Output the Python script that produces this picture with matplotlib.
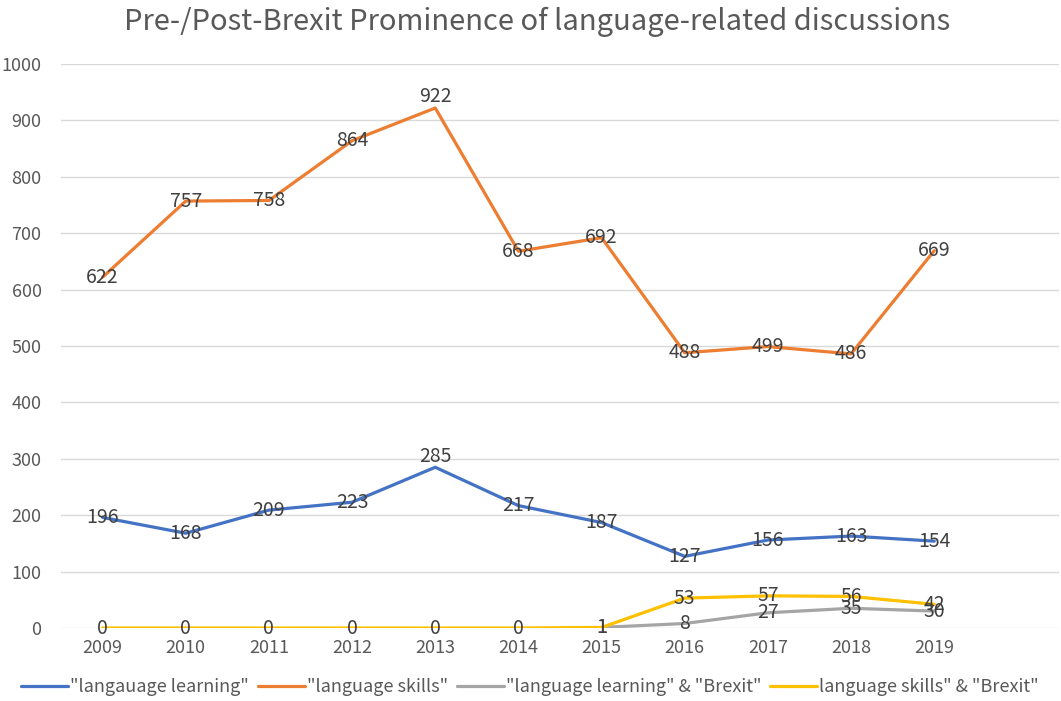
import numpy as np
import matplotlib
matplotlib.use("Agg")
import matplotlib.pyplot as plt

plt.rcParams['font.family'] = ['Noto Sans CJK SC', 'DejaVu Sans']

years = ["2009", "2010", "2011", "2012", "2013", "2014", "2015", "2016", "2017", "2018", "2019"]
lang_learning = [196, 168, 209, 223, 285, 217, 187, 127, 156, 163, 154]
lang_skills = [622, 757, 758, 864, 922, 668, 692, 488, 499, 486, 669]
learning_brexit = [None, None, None, None, None, None, 1, 8, 27, 35, 30]
skills_brexit = [0, 0, 0, 0, 0, 0, 1, 53, 57, 56, 42]

series = [
    ('"langauage learning"', lang_learning, "#4472C4"),
    ('"language skills"', lang_skills, "#ED7D31"),
    ('"language learning" & "Brexit"', learning_brexit, "#A5A5A5"),
    ('language skills" & "Brexit"', skills_brexit, "#FFC000"),
]

fig = plt.figure(figsize=(10.61, 7.01), dpi=100)
ax = fig.add_axes([61 / 1061, 1 - 628 / 701, 998 / 1061, 564 / 701])

x = np.arange(len(years))
text_col = "#404040"
for name, vals, col in series:
    v = np.array([np.nan if a is None else a for a in vals], dtype=float)
    ax.plot(x, v, color=col, lw=2.3, label=name, solid_capstyle="round", zorder=3)

for name, vals, col in series:
    for i, a in enumerate(vals):
        if a is None:
            continue
        # the 2013 peaks have their labels lifted above the point
        dy = 8 if (i == 4 and a > 0) else 0
        ax.annotate(str(a), (i, a), xytext=(0, dy), textcoords="offset points",
                    ha="center", va="center", fontsize=14, color=text_col, zorder=4)

ax.set_xlim(-0.5, 11.5)
ax.set_ylim(0, 1000)
ax.set_yticks(np.arange(0, 1001, 100))
ax.set_xticks(x)
ax.set_xticklabels(years)
ax.tick_params(axis="both", length=0, labelsize=13, labelcolor="#595959")
ax.tick_params(axis="x", pad=8)
ax.tick_params(axis="y", pad=14)
ax.grid(axis="y", color="#D9D9D9", lw=1)
ax.set_axisbelow(True)
for s in ax.spines.values():
    s.set_visible(False)

fig.text(537 / 1061, 1 - 22 / 701, "Pre-/Post-Brexit Prominence of language-related discussions",
         ha="center", va="center", fontsize=21, color="#595959")

fig.legend(loc="center", bbox_to_anchor=(530 / 1061, 1 - 687 / 701), ncol=4, frameon=False,
           fontsize=13, labelcolor="#595959", handlelength=2.6, handletextpad=0.1,
           columnspacing=0.5)

fig.savefig("out.png", dpi=100, facecolor="w")
